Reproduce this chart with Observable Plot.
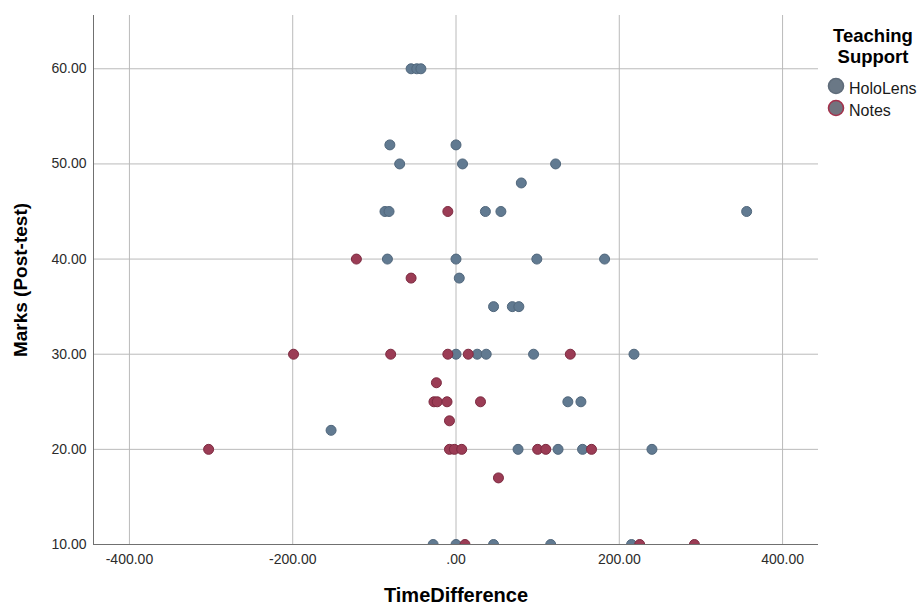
<!DOCTYPE html>
<html><head><meta charset="utf-8">
<script src="https://cdn.jsdelivr.net/npm/d3@7"></script>
<script src="https://cdn.jsdelivr.net/npm/@observablehq/plot@0.6"></script>
<style>
body{margin:0;background:#fff;}
#wrap{position:relative;width:920px;height:607px;font-family:"Liberation Sans",Arial,sans-serif;}
</style></head><body><div id="wrap"></div>
<script>
const seriesNames = ["HoloLens", "Notes"];
const seriesFill = ["#617a91", "#9b3c55"];
const seriesStroke = ["#51677c", "#7d2b41"];
const legendFill = ["#6a7886", "#72737e"];
const legendStroke = ["#5f6c7a", "#a3324c"];

const holoTime  = [-55,-48,-43, -81,0, -69,8,122, 80, -87,-82,36,55,356, -84,0,99,182, 4, 46,69,77, 0,26,37,95,218, 137,153, -153, 76,125,155,240, -28,0,46,116,215];
const holoMarks = [60,60,60, 52,52, 50,50,50, 48, 45,45,45,45,45, 40,40,40,40, 38, 35,35,35, 30,30,30,30,30, 25,25, 22, 20,20,20,20, 10,10,10,10,10];

const notesTime  = [-10, -122, -55, -199,-80,-10,15,140, -24, -27,-23,-11,30, -8, -303,-8,-2,7,100,110,166, 52, 11,225,292];
const notesMarks = [45, 40, 38, 30,30,30,30,30, 27, 25,25,25,25, 23, 20,20,20,20,20,20,20, 17, 10,10,10];

const xTicks = [-400, -200, 0, 200, 400];
const yTicks = [10, 20, 30, 40, 50, 60];
const xDomain = [-444, 444];
const yDomain = [10, 65.6];
const xLabel = "TimeDifference";
const yLabel = "Marks (Post-test)";
const legendTitle = ["Teaching", "Support"];

const fmt = v => v === 0 ? ".00" : v.toFixed(2);
const holoRows = holoTime.map((t, i) => ({t, m: holoMarks[i]}));
const notesRows = notesTime.map((t, i) => ({t, m: notesMarks[i]}));

const chart = Plot.plot({
  width: 920, height: 607,
  marginLeft: 93, marginRight: 102, marginTop: 15, marginBottom: 63,
  style: {fontFamily: '"Liberation Sans", Arial, sans-serif', fontSize: "14px", color: "#2b2b2b", background: "#fff"},
  x: {domain: xDomain},
  y: {domain: yDomain},
  marks: [
    Plot.gridX(xTicks, {stroke: "#bababa", strokeOpacity: 1}),
    Plot.gridY(yTicks, {stroke: "#bababa", strokeOpacity: 1}),
    Plot.ruleX([xDomain[0]], {stroke: "#707070"}),
    Plot.ruleY([yDomain[0]], {stroke: "#707070"}),
    Plot.axisX({ticks: xTicks, tickSize: 0, tickPadding: 10, tickFormat: fmt, label: xLabel, labelAnchor: "center", labelOffset: 57, labelArrow: "none"}),
    Plot.axisY({ticks: yTicks, tickSize: 0, tickPadding: 7, tickFormat: fmt, label: yLabel, labelAnchor: "center", labelOffset: 80, labelArrow: "none"}),
    Plot.dot(holoRows, {x: "t", y: "m", r: 5, fill: seriesFill[0], stroke: seriesStroke[0], strokeWidth: 1, clip: true}),
    Plot.dot(notesRows, {x: "t", y: "m", r: 5, fill: seriesFill[1], stroke: seriesStroke[1], strokeWidth: 1, clip: true})
  ]
});

chart.querySelectorAll('[aria-label="x-axis label"], [aria-label="y-axis label"]').forEach(g => {
  g.setAttribute("font-size", "20");
  g.setAttribute("font-weight", "bold");
  g.setAttribute("fill", "#000");
});
const yl = chart.querySelector('[aria-label="y-axis label"]');
if (yl) yl.setAttribute("font-size", "19");

const wrap = document.getElementById("wrap");
wrap.appendChild(chart);

// Legend
const leg = d3.create("svg")
  .attr("width", 920).attr("height", 607)
  .style("position", "absolute").style("left", "0px").style("top", "0px")
  .style("pointer-events", "none")
  .attr("font-family", '"Liberation Sans", Arial, sans-serif');
leg.selectAll("text.title").data(legendTitle).join("text")
  .attr("class", "title")
  .attr("x", 873).attr("y", (d, i) => 42 + i * 20.5)
  .attr("text-anchor", "middle").attr("font-weight", "bold").attr("font-size", 18.5).attr("fill", "#000")
  .text(d => d);
const items = leg.selectAll("g.item").data(seriesNames).join("g").attr("class", "item")
  .attr("transform", (d, i) => `translate(0,${86 + i * 22})`);
items.append("circle").attr("cx", 836).attr("cy", 0).attr("r", 7.5)
  .attr("fill", (d, i) => legendFill[i]).attr("stroke", (d, i) => legendStroke[i]).attr("stroke-width", 1.6);
items.append("text").attr("x", 849).attr("y", 8).attr("font-size", 16).attr("fill", "#1a1a1a").text(d => d);
wrap.appendChild(leg.node());
</script></body></html>
